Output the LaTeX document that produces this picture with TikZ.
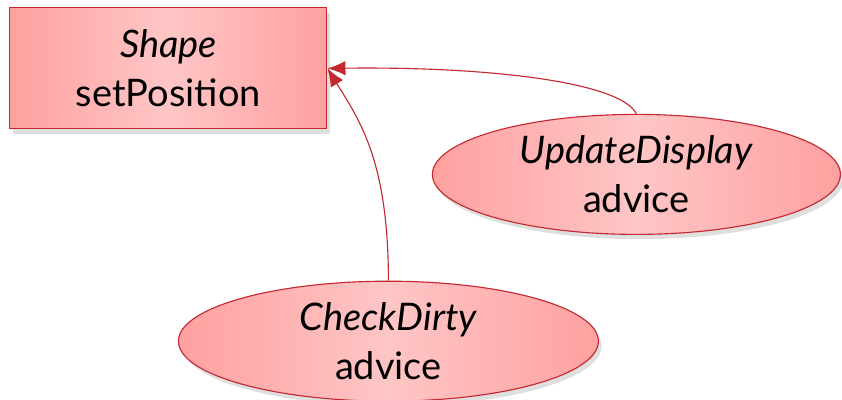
\documentclass[tikz,border=0pt]{standalone}
\usepackage{fontspec}
\setmainfont{Lato}
\usepackage{tikz}
\usetikzlibrary{shapes.geometric,shadows,arrows.meta}

\definecolor{boxred}{RGB}{196,40,48}
\definecolor{pinkedge}{RGB}{255,160,160}
\definecolor{pinkmid}{RGB}{255,198,198}

\tikzset{
  pinkfill/.style={draw=boxred, thick, left color=pinkedge, right color=pinkedge, middle color=pinkmid,
    drop shadow={opacity=0.25, shadow xshift=0.08, shadow yshift=-0.12},
    align=center, inner sep=0pt, font=\fontsize{27}{35}\selectfont},
  joinpoint/.style={pinkfill, rectangle, minimum width=7.925cm, minimum height=3.025cm},
  advice/.style={pinkfill, ellipse, minimum height=3cm},
  calls/.style={boxred, thick, -{Latex[length=4.5mm,width=3.6mm]}}
}

\begin{document}
\begin{tikzpicture}
\useasboundingbox (0,0) rectangle (21.05,10);
\node[joinpoint] (shape) at (4.21,8.29) {\textit{Shape}\\setPosition};
\node[advice, minimum width=10.2cm] (upd) at (15.91,5.64) {\textit{UpdateDisplay}\\advice};
\node[advice, minimum width=10.5cm] (chk) at (9.71,1.47) {\textit{CheckDirty}\\advice};
\draw[calls] (upd.north) .. controls +(-0.4,0.8) and +(4,0.05) .. (shape.east);
\draw[calls] (chk.north) .. controls +(0,3) and +(0.8,-1.3) .. (shape.east);
\end{tikzpicture}
\end{document}
